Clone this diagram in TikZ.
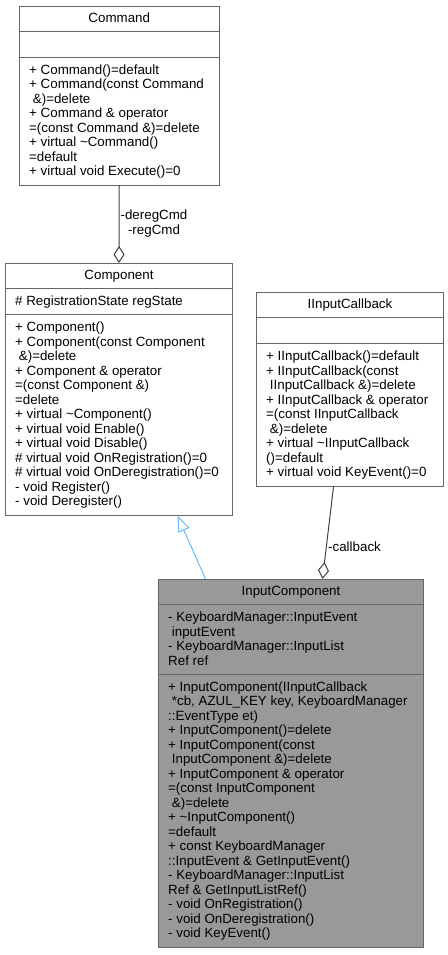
\documentclass[tikz,border=0pt]{standalone}
\usepackage{fontspec}
\setmainfont{Liberation Sans}
\usetikzlibrary{arrows.meta}

\definecolor{edgegray}{HTML}{404040}
\definecolor{boxline}{HTML}{666666}
\definecolor{mainfill}{HTML}{999999}
\definecolor{inheritblue}{HTML}{63B8FF}

\tikzset{
  umltext/.style={font=\fontsize{13.4}{14.5}\selectfont, inner sep=0pt, anchor=base west, text=black},
  umltitle/.style={umltext, anchor=base},
  classbox/.style={draw=boxline, line width=1bp, fill=white, anchor=north west, inner sep=0pt},
  mainbox/.style={classbox, fill=mainfill},
  sepline/.style={draw=boxline, line width=1bp},
  aggr/.style={draw=edgegray, line width=1bp, -{Diamond[open, length=17bp, width=11bp]}},
  inh/.style={draw=inheritblue, line width=1bp, -{Triangle[open, length=16bp, width=12bp]}},
}

% one text node per line, baselines 14.5 apart
\newcommand\memberlines[4]{%
  \foreach \txt [count=\i] in {#4} {
    \node[umltext] (#1-\i) at (#2, {#3+(\i-1)*14.5}) {\txt};
  }}

\begin{document}
\begin{tikzpicture}[x=1bp, y=-1bp]
\useasboundingbox (0,0) rectangle (448,955);

% ---------------- Command ----------------
\node[classbox, minimum width=199.5bp, minimum height=179.2bp] (command) at (19,5.5) {};
\draw[sepline] (command.west |- 0,31.4) -- (command.east |- 0,31.4);
\draw[sepline] (command.west |- 0,57.3) -- (command.east |- 0,57.3);
\node[umltitle] (command-title) at (command.north |- 0,22.2) {Command};
\memberlines{cmdop}{29}{74.0}{
  + Command()=default,
  + Command(const Command,
  {\ \&)=delete},
  + Command \& operator,
  =(const Command \&)=delete,
  + virtual \textasciitilde Command(),
  =default,
  + virtual void Execute()=0}

% ---------------- Component ----------------
\node[classbox, minimum width=227bp, minimum height=251.7bp] (comp) at (5,263) {};
\draw[sepline] (comp.west |- 0,288.9) -- (comp.east |- 0,288.9);
\draw[sepline] (comp.west |- 0,314.8) -- (comp.east |- 0,314.8);
\node[umltitle] (comp-title) at (comp.north |- 0,279.7) {Component};
\memberlines{compattr}{15}{305.6}{\# RegistrationState regState}
\memberlines{compop}{15}{331.5}{
  + Component(),
  + Component(const Component,
  {\ \&)=delete},
  + Component \& operator,
  =(const Component \&),
  =delete,
  + virtual \textasciitilde Component(),
  + virtual void Enable(),
  + virtual void Disable(),
  \# virtual void OnRegistration()=0,
  \# virtual void OnDeregistration()=0,
  - void Register(),
  - void Deregister()}

% ---------------- IInputCallback ----------------
\node[classbox, minimum width=187bp, minimum height=193.7bp] (iic) at (256,292) {};
\draw[sepline] (iic.west |- 0,317.9) -- (iic.east |- 0,317.9);
\draw[sepline] (iic.west |- 0,343.8) -- (iic.east |- 0,343.8);
\node[umltitle] (iic-title) at (iic.north |- 0,308.7) {IInputCallback};
\memberlines{iicop}{266}{360.5}{
  + IInputCallback()=default,
  + IInputCallback(const,
  {\ IInputCallback \&)=delete},
  + IInputCallback \& operator,
  =(const IInputCallback,
  {\ \&)=delete},
  + virtual \textasciitilde IInputCallback,
  ()=default,
  + virtual void KeyEvent()=0}

% ---------------- InputComponent ----------------
\node[mainbox, minimum width=265bp, minimum height=367.7bp] (ic) at (158,579) {};
\draw[sepline] (ic.west |- 0,604.9) -- (ic.east |- 0,604.9);
\draw[sepline] (ic.west |- 0,674.3) -- (ic.east |- 0,674.3);
\node[umltitle] (ic-title) at (ic.north |- 0,595.7) {InputComponent};
\memberlines{icattr}{168}{621.6}{
  - KeyboardManager::InputEvent,
  {\ inputEvent},
  - KeyboardManager::InputList,
  Ref ref}
\memberlines{icop}{168}{691.0}{
  + InputComponent(IInputCallback,
  {\ *cb, AZUL\_KEY key, KeyboardManager},
  ::EventType et),
  + InputComponent()=delete,
  + InputComponent(const,
  {\ InputComponent \&)=delete},
  + InputComponent \& operator,
  =(const InputComponent,
  {\ \&)=delete},
  + \textasciitilde InputComponent(),
  =default,
  + const KeyboardManager,
  ::InputEvent \& GetInputEvent(),
  - KeyboardManager::InputList,
  Ref \& GetInputListRef(),
  - void OnRegistration(),
  - void OnDeregistration(),
  - void KeyEvent()}

% ---------------- relations ----------------
\draw[aggr] (command.south) -- (comp.north);
\node[umltext, anchor=base] (lbl-dereg) at (154,219.5) {-deregCmd};
\node[umltext, anchor=base] (lbl-reg) at (154,234) {-regCmd};

\draw[aggr] ([xshift=-16.5bp]iic.south) -- ([xshift=31.5bp]ic.north);
\node[umltext] (lbl-cb) at (328,551.5) {-callback};

\draw[inh] ([xshift=-85.5bp]ic.north) -- ([xshift=58.5bp]comp.south);
\end{tikzpicture}
\end{document}
